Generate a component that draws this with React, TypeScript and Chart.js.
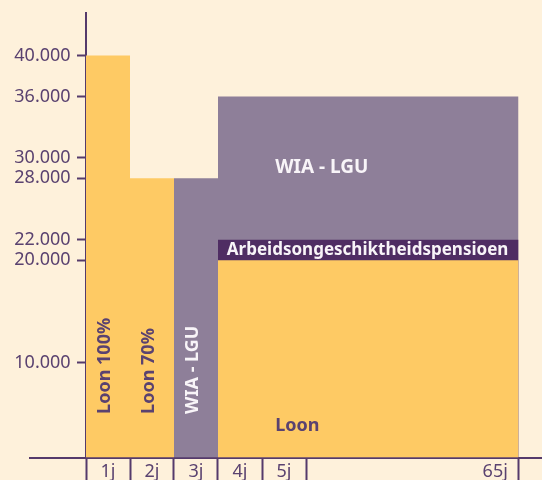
import React, { useEffect, useRef } from 'react';
import { Chart, registerables } from 'chart.js';

Chart.register(...registerables);

// ---- data ----
const segmentLabels = ['1j', '2j', '3j', '4j-65j'];
const segmentStart = [0, 1, 2, 3];
const segmentEnd = [1, 2, 3, 9.83];
const loonValues = [40000, 28000, 0, 20000];
const pensionValues = [0, 0, 0, 2000];
const wiaValues = [0, 0, 28000, 14000];

const yTickValues = [10000, 20000, 22000, 28000, 30000, 36000, 40000];
const xBoundaryTicks = [0, 1, 2, 3, 4, 5, 9.83];
const xLabelTicks = [0.5, 1.5, 2.5, 3.5, 4.5, 9.3];
const xTickLabels = ['1j', '2j', '3j', '4j', '5j', '65j'];

// ---- styles ----
const BG = '#FEF1DB';
const YELLOW = '#FECA64';
const PURPLE = '#8E7F99';
const DARK = '#4F2D63';
const AXIS = '#553A6B';
const TEXT = '#5A4270';
const WHITE = '#F8F4F8';
const FONT = "'Noto Sans', 'Open Sans', sans-serif";

const X_MIN = -56 / 44;
const X_MAX = X_MIN + 512 / 44;
const Y_MIN = 740;
const Y_MAX = 44150;
const Y_LABEL_ANCHOR = -0.35; // x-value where the y tick labels end (left of the axis)

const layers = [
  { name: 'Loon', values: loonValues, color: YELLOW },
  { name: 'Arbeidsongeschiktheidspensioen', values: pensionValues, color: DARK },
  { name: 'WIA - LGU', values: wiaValues, color: PURPLE },
];

function formatThousands(v: number) {
  return String(Math.round(v)).replace(/\B(?=(\d{3})+(?!\d))/g, '.');
}

// Stacked areas: each layer is filled from its cumulative top down to zero;
// lower layers come first so they are painted on top (no seams between layers).
function buildDatasets() {
  const ds: any[] = [];
  segmentStart.forEach((start, i) => {
    let base = 0;
    layers.forEach((layer) => {
      const v = layer.values[i];
      if (v > 0) {
        ds.push({
          label: layer.name + ' ' + segmentLabels[i],
          yAxisID: 'y',
          data: [
            { x: start, y: base + v },
            { x: segmentEnd[i], y: base + v },
          ],
          fill: { value: 0 },
          backgroundColor: layer.color,
          borderColor: 'rgba(0,0,0,0)',
          borderWidth: 0,
          pointRadius: 0,
          pointHoverRadius: 0,
          tension: 0,
        });
      }
      base += v;
    });
  });
  return ds;
}

type Ann = {
  text: string;
  x: number;
  y: number;
  vertical?: boolean;
  align?: CanvasTextAlign;
  baseline?: CanvasTextBaseline;
  color: string;
  size: number;
};

const annotations: Ann[] = [
  { text: 'Loon 100%', x: 0.5, y: 5000, vertical: true, color: TEXT, size: 18 },
  { text: 'Loon 70%', x: 1.5, y: 5000, vertical: true, color: TEXT, size: 18 },
  { text: 'WIA - LGU', x: 2.5, y: 5000, vertical: true, color: WHITE, size: 18 },
  { text: 'WIA - LGU', x: 4.3, y: 28500, align: 'left', baseline: 'alphabetic', color: WHITE, size: 19 },
  { text: 'Arbeidsongeschiktheidspensioen', x: 6.4, y: 21000, align: 'center', baseline: 'middle', color: WHITE, size: 17 },
  { text: 'Loon', x: 4.3, y: 3350, align: 'left', baseline: 'alphabetic', color: TEXT, size: 18 },
];

const annotationPlugin = {
  id: 'annotationLabels',
  afterDatasetsDraw(chart: any) {
    const { ctx, scales } = chart;
    const xs = scales.x;
    const ys = scales.y;
    annotations.forEach((a) => {
      const px = xs.getPixelForValue(a.x);
      const py = ys.getPixelForValue(a.y);
      ctx.save();
      ctx.fillStyle = a.color;
      ctx.font = `bold ${a.size}px ${FONT}`;
      if (a.vertical) {
        ctx.translate(px + 2, py);
        ctx.rotate(-Math.PI / 2);
        ctx.textAlign = 'left';
        ctx.textBaseline = 'alphabetic';
        ctx.fillText(a.text, 0, 0);
      } else {
        ctx.textAlign = a.align || 'left';
        ctx.textBaseline = a.baseline || 'alphabetic';
        ctx.fillText(a.text, px, py);
      }
      ctx.restore();
    });
  },
};

const yTicksHook = (s: any) => {
  s.ticks = yTickValues.map((value) => ({ value }));
};
const yFitHook = (s: any) => {
  s.paddingTop = 0;
  s.paddingBottom = 0;
};

export default function App() {
  const ref = useRef<HTMLCanvasElement>(null);

  useEffect(() => {
    if (!ref.current) return;
    const chart = new Chart(ref.current, {
      type: 'line',
      data: { datasets: buildDatasets() },
      options: {
        responsive: false,
        animation: false,
        events: [],
        layout: { padding: { left: 30, top: 13, right: 0, bottom: 0 } },
        plugins: {
          legend: { display: false },
          tooltip: { enabled: false },
        },
        scales: {
          x: {
            type: 'linear',
            position: 'bottom',
            min: X_MIN,
            max: X_MAX,
            afterBuildTicks: (s: any) => {
              s.ticks = [...xBoundaryTicks, ...xLabelTicks]
                .sort((a, b) => a - b)
                .map((value) => ({ value }));
            },
            afterFit: (s: any) => {
              s.height = 22.5;
              s.paddingLeft = 0;
              s.paddingRight = 0;
            },
            grid: {
              drawOnChartArea: false,
              drawTicks: true,
              tickLength: 23,
              tickWidth: 2,
              color: 'rgba(0,0,0,0)',
              tickColor: (ctx: any) =>
                ctx.tick && xBoundaryTicks.includes(ctx.tick.value) ? AXIS : 'rgba(0,0,0,0)',
            },
            border: { display: true, color: AXIS, width: 2 },
            ticks: {
              autoSkip: false,
              maxRotation: 0,
              minRotation: 0,
              padding: -19,
              color: TEXT,
              font: { family: FONT, size: 18 },
              callback: (v: any) => {
                const i = xLabelTicks.indexOf(Number(v));
                return i >= 0 ? xTickLabels[i] : '';
              },
            },
          },
          // labels of the value axis
          y: {
            type: 'linear',
            position: { x: Y_LABEL_ANCHOR } as any,
            min: Y_MIN,
            max: Y_MAX,
            afterBuildTicks: yTicksHook,
            afterFit: yFitHook,
            grid: { display: false, drawOnChartArea: false, drawTicks: false },
            border: { display: false },
            ticks: {
              color: TEXT,
              font: { family: FONT, size: 18 },
              callback: (v: any) => formatThousands(Number(v)),
            },
          },
          // line and tick marks of the value axis
          yAxisLine: {
            axis: 'y',
            type: 'linear',
            position: { x: 0 } as any,
            min: Y_MIN,
            max: Y_MAX,
            afterBuildTicks: yTicksHook,
            afterFit: yFitHook,
            grid: {
              drawOnChartArea: false,
              drawTicks: true,
              tickLength: 8,
              tickWidth: 2,
              color: 'rgba(0,0,0,0)',
              tickColor: AXIS,
            },
            border: { display: true, color: AXIS, width: 2 },
            ticks: { display: false },
          } as any,
        },
      },
      plugins: [annotationPlugin],
    });
    return () => chart.destroy();
  }, []);

  return (
    <div
      style={{
        position: 'fixed',
        left: 0,
        top: 0,
        width: 542,
        height: 480,
        background: BG,
        overflow: 'hidden',
      }}
    >
      <canvas ref={ref} width={542} height={480} style={{ display: 'block' }} />
    </div>
  );
}
